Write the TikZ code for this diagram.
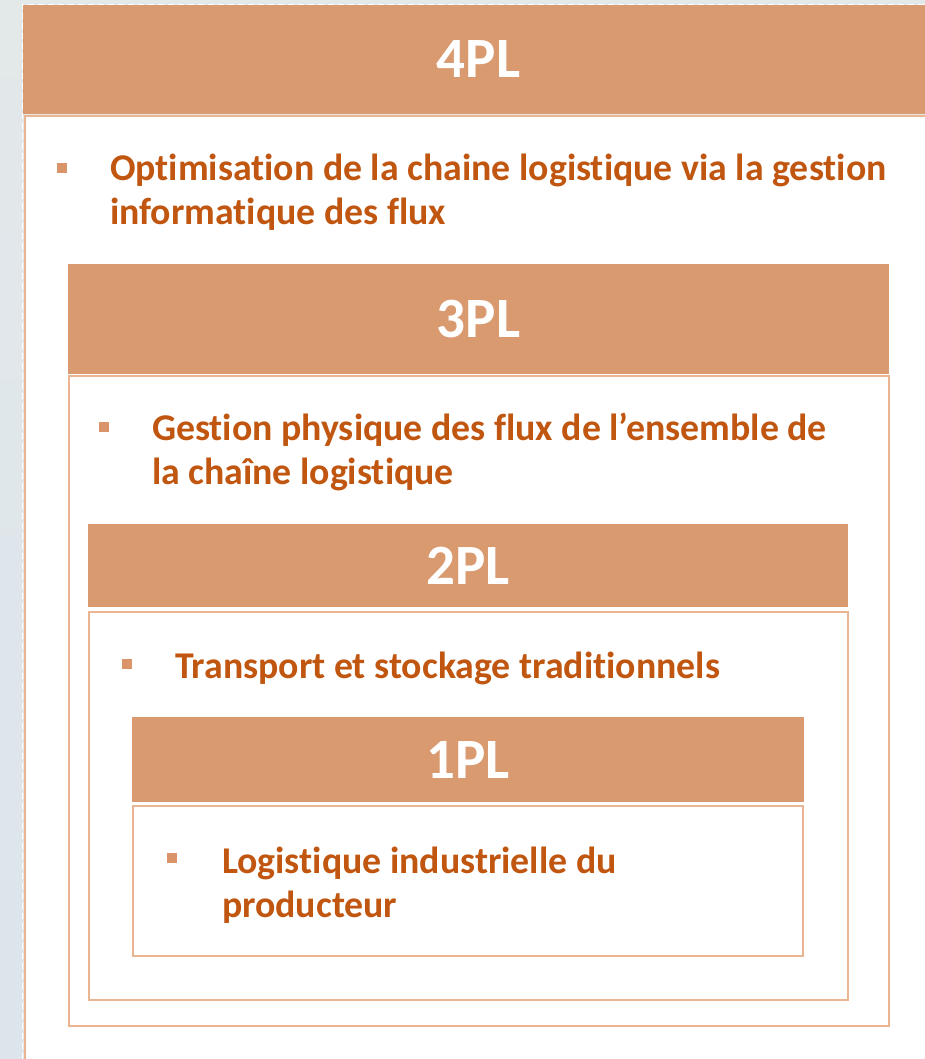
\documentclass[tikz,border=0pt]{standalone}
\usepackage{fontspec}
\setmainfont{Carlito}[Ligatures=NoCommon]
\definecolor{hdrfill}{HTML}{D99A70}
\definecolor{bdr}{HTML}{EBB592}
\definecolor{txtc}{HTML}{C0560F}
\definecolor{bullc}{HTML}{D9946A}
\definecolor{bgA}{HTML}{E3E8E9}
\definecolor{bgB}{HTML}{EDF1E3}
\definecolor{bgC}{HTML}{DCE5EC}
\tikzset{
  hdr/.style={fill=hdrfill, draw=none, anchor=north west, inner sep=0pt, outer sep=0pt,
    text=white, font=\bfseries\fontsize{57}{60}\selectfont},
  bodybox/.style={draw=bdr, line width=2pt, fill=white, anchor=north west, inner sep=0pt, outer sep=0pt},
  txt/.style={anchor=base west, inner sep=0pt, outer sep=0pt, text=txtc,
    font=\bfseries\fontsize{37.8}{44}\selectfont},
  bull/.style={fill=bullc, draw=none, anchor=north west, inner sep=0pt, outer sep=0pt,
    minimum width=10pt, minimum height=10pt}
}
\begin{document}
\begin{tikzpicture}[x=1pt,y=-1pt]
\useasboundingbox (0,0) rectangle (925,1059);
\fill[bgA] (0,0) rectangle (925,1059);
\shade[top color=bgA, middle color=bgB, bottom color=bgC] (0,0) rectangle (23,1059);
% outer 4PL
\node[bodybox, minimum width=960pt, minimum height=980pt] (b4) at (24.5,116) {};
\draw[white, line width=1pt, dash pattern=on 6pt off 4pt] (22.5,1059) -- (22.5,4.5) -- (925,4.5);
\node[hdr, minimum width=950pt, minimum height=109pt] (h4) at (23,5) {};
\node[text=white, font=\bfseries\fontsize{57}{60}\selectfont, inner sep=0pt] (l4) at (478.5,59.5) {4PL};
\node[bull] (u4) at (57,163) {};
\node[txt] (t4a) at (110,181) {Optimisation de la chaine logistique via la gestion};
\node[txt] (t4b) at (110,225) {informatique des flux};
% 3PL
\node[bodybox, minimum width=820pt, minimum height=650pt] (b3) at (69,376) {};
\node[hdr, minimum width=821pt, minimum height=110pt] (h3) at (68,264) {3PL};
\node[bull] (u3) at (99,422) {};
\node[txt] (t3a) at (152,440) {Gestion physique des flux de l’ensemble de};
\node[txt] (t3b) at (152,484) {la chaîne logistique};
% 2PL
\node[bodybox, minimum width=759pt, minimum height=388pt] (b2) at (89,611.5) {};
\node[hdr, minimum width=760pt, minimum height=83pt] (h2) at (88,524) {2PL};
\node[bull] (u2) at (122,659) {};
\node[txt] (t2a) at (175,678) {Transport et stockage traditionnels};
% 1PL
\node[bodybox, minimum width=670pt, minimum height=150pt] (b1) at (133,806) {};
\node[hdr, minimum width=672pt, minimum height=85pt] (h1) at (132,717) {1PL};
\node[bull] (u1) at (167,853) {};
\node[txt] (t1a) at (222,873) {Logistique industrielle du};
\node[txt] (t1b) at (222,917) {producteur};
\end{tikzpicture}
\end{document}
